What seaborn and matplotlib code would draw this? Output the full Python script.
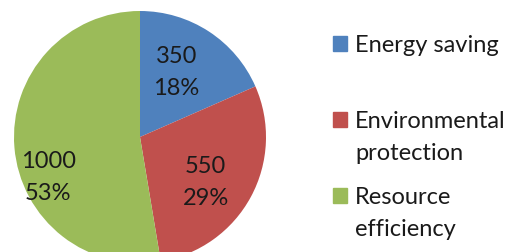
import matplotlib
matplotlib.use("Agg")
import matplotlib.pyplot as plt
import seaborn as sns
from matplotlib.patches import Rectangle

# data
categories = ["Energy saving", "Environmental\nprotection", "Resource\nefficiency"]
values = [350, 550, 1000]
colors = ["#4F81BD", "#C0504D", "#9BBB59"]

sns.set_theme(style="white")
plt.rcParams['font.family'] = ['Lato', 'DejaVu Sans']

W, H = 515, 253
fig = plt.figure(figsize=(W / 100, H / 100), dpi=100)

# pie axes: center (140, 138) px, radius 126 px
cx, cy, r = 140, 138, 126
ax = fig.add_axes([(cx - r) / W, (H - cy - r) / H, 2 * r / W, 2 * r / H])

total = sum(values)
wedges, texts = ax.pie(values, colors=colors, startangle=90, counterclock=False,
                       radius=1, wedgeprops=dict(linewidth=0))
ax.set_xlim(-1, 1)
ax.set_ylim(-1, 1)
ax.set_aspect('auto')
ax.axis('off')

# data labels (value + percent), Excel style best-fit positions
label_pos = [(0.29, 0.52), (0.52, -0.35), (-0.73, -0.31)]
for v, (lx, ly) in zip(values, label_pos):
    ax.text(lx, ly, f"{v}\n{v / total:.0%}", ha='center', va='center',
            fontsize=17, color='#1a1a1a', linespacing=1.65)

# legend drawn manually so the markers line up with the first text line
legend_base = [52, 128, 204]
pitch = 32
for lab, col, y in zip(categories, colors, legend_base):
    fig.patches.append(Rectangle((333 / W, 1 - y / H), 14 / W, 15 / H,
                                 transform=fig.transFigure, color=col))
    for i, line in enumerate(lab.split("\n")):
        fig.text(355 / W, 1 - (y + i * pitch) / H, line, ha='left', va='baseline',
                 fontsize=17, color='#1a1a1a')

fig.savefig("out.png", dpi=100)
